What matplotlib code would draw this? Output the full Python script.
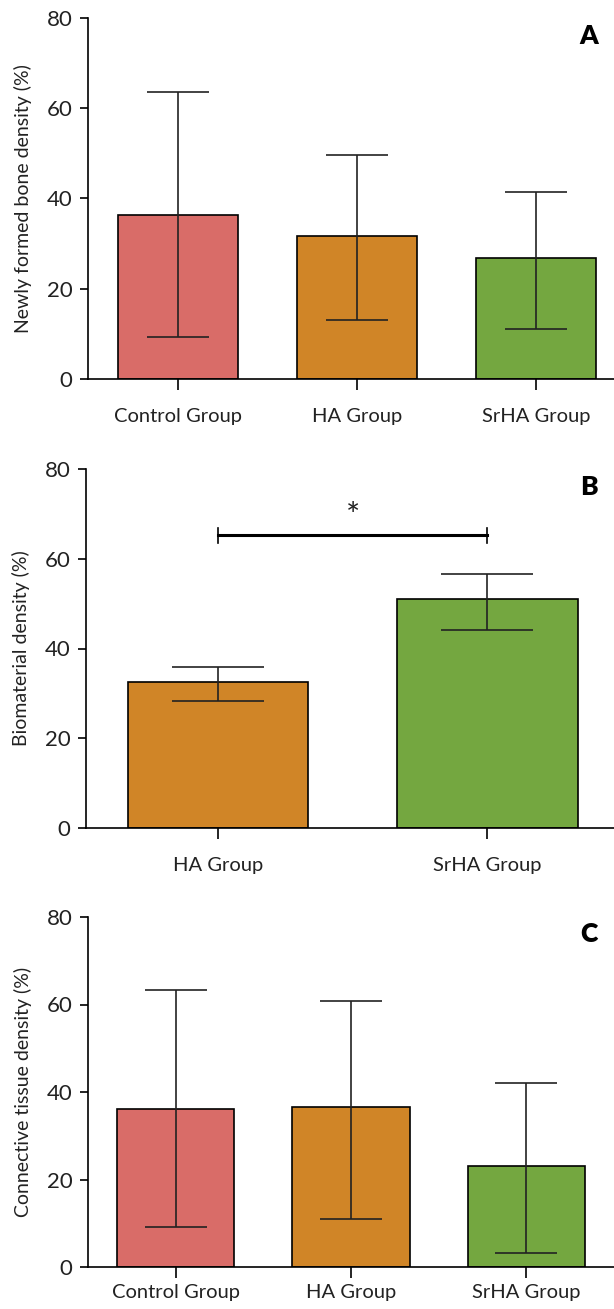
import matplotlib
matplotlib.use("Agg")
from matplotlib import pyplot as plt
import numpy as np

plt.rcParams['font.family'] = ['Lato', 'DejaVu Sans']
plt.rcParams['text.color'] = '#222222'
plt.rcParams['xtick.labelcolor'] = '#222222'
plt.rcParams['ytick.labelcolor'] = '#222222'
plt.rcParams['axes.labelcolor'] = '#222222'

# colours per group
colors = {"Control Group": "#D96C68", "HA Group": "#D08527", "SrHA Group": "#74A740"}

# panel A - newly formed bone
groups_a = ["Control Group", "HA Group", "SrHA Group"]
mean_a = [36.4, 31.8, 26.8]
low_a = [9.4, 13.0, 11.1]
high_a = [63.5, 49.6, 41.5]

# panel B - biomaterial
groups_b = ["HA Group", "SrHA Group"]
mean_b = [32.5, 51.0]
low_b = [28.2, 44.1]
high_b = [35.9, 56.5]
sig_y = 65.2
sig_label = "*"

# panel C - connective tissue
groups_c = ["Control Group", "HA Group", "SrHA Group"]
mean_c = [36.2, 36.5, 23.1]
low_c = [9.1, 10.95, 3.2]
high_c = [63.4, 60.8, 42.0]

yticks = [0, 20, 40, 60, 80]

W, H = 614, 1309
fig = plt.figure(figsize=(W / 100, H / 100), dpi=100)


def px_axes(left, top, bottom, right=614):
    return fig.add_axes([left / W, 1 - bottom / H, (right - left) / W, (bottom - top) / H])


def draw_panel(ax, groups, mean, low, high, ylabel, letter, xlim, capsize, xpad=13):
    x = np.arange(len(groups))
    mean = np.array(mean)
    yerr = [mean - np.array(low), np.array(high) - mean]
    ax.bar(x, mean, width=0.67, color=[colors[g] for g in groups],
           edgecolor="black", linewidth=1.2, zorder=2)
    ax.errorbar(x, mean, yerr=yerr, fmt="none", ecolor="#222222",
                elinewidth=1.2, capsize=capsize, capthick=1.2, zorder=3)
    ax.set_xlim(*xlim)
    ax.set_ylim(0, 80)
    ax.set_yticks(yticks)
    ax.set_xticks(x)
    ax.set_xticklabels(groups)
    for s in ["top", "right"]:
        ax.spines[s].set_visible(False)
    for s in ["left", "bottom"]:
        ax.spines[s].set_linewidth(1.2)
    ax.tick_params(axis="y", length=6, width=1.2, pad=5, labelsize=16)
    ax.tick_params(axis="x", length=8, width=1.2, pad=xpad, labelsize=14.5)
    ax.set_ylabel(ylabel, fontsize=14, labelpad=11)
    ax.text(0.952, 0.95, letter, transform=ax.transAxes, fontsize=19,
            fontweight="heavy", ha="center", va="center", color="black")


ax1 = px_axes(88, 18, 379)
draw_panel(ax1, groups_a, mean_a, low_a, high_a,
           "Newly formed bone density (%)", "A", (-0.5, 2.434), 22)

ax2 = px_axes(86, 469, 828)
draw_panel(ax2, groups_b, mean_b, low_b, high_b,
           "Biomaterial density (%)", "B", (-0.49, 1.47), 33)
ax2.plot([0, 1], [sig_y, sig_y], color="black", linewidth=2.2, zorder=4)
for xx in [0, 1]:
    ax2.plot([xx, xx], [sig_y - 1.7, sig_y + 1.7], color="black", linewidth=1.2, zorder=4)
ax2.text(0.5, sig_y + 4.0, sig_label, ha="center", va="center", fontsize=24)

ax3 = px_axes(88, 917, 1267)
draw_panel(ax3, groups_c, mean_c, low_c, high_c,
           "Connective tissue density (%)", "C", (-0.5, 2.5), 22, xpad=4)

fig.savefig("out.png", dpi=100)
